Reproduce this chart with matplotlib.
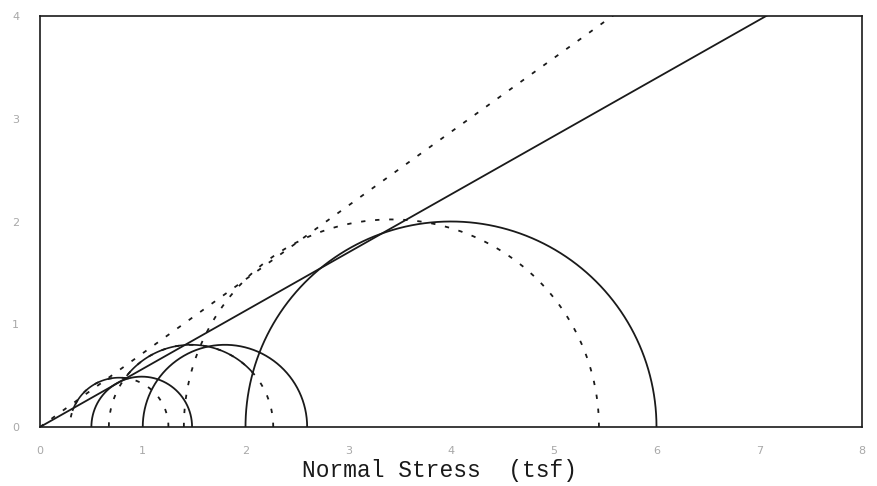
import numpy as np
import matplotlib
matplotlib.use("Agg")
import matplotlib.pyplot as plt

# Mohr circles (centre, radius) in tsf
total_centers = [0.99, 1.80, 4.00]
total_radii = [0.49, 0.80, 2.00]
effective_centers = [0.77, 1.47, 3.42]
effective_radii = [0.48, 0.80, 2.02]
# portions of the effective circles traced as a continuous line (degrees)
effective_solid_arcs = [(80, 160), (41, 141), None]

# failure envelopes through the origin: tan(phi)
total_envelope_slope = 0.566
effective_envelope_slope = 0.718

x_ticks = [0, 1, 2, 3, 4, 5, 6, 7, 8]
y_ticks = [0, 1, 2, 3, 4]

fig = plt.figure(figsize=(8.77, 4.86), dpi=100)
ax = fig.add_axes([40 / 877, 1 - 427 / 486, 822 / 877, 411 / 486])

ink = "#1a1a1a"
dash = (0, (2.4, 5.4))
theta = np.linspace(0, np.pi, 400)

for c, r in zip(total_centers, total_radii):
    ax.plot(c + r * np.cos(theta), r * np.sin(theta), color=ink, lw=1.3)

for c, r, arc in zip(effective_centers, effective_radii, effective_solid_arcs):
    ax.plot(c + r * np.cos(theta), r * np.sin(theta), color=ink, lw=1.3,
            linestyle=dash)
    if arc is not None:
        t = np.radians(np.linspace(arc[0], arc[1], 100))
        ax.plot(c + r * np.cos(t), r * np.sin(t), color=ink, lw=1.2)

xs = np.array([0.0, 8.0])
ax.plot(xs, total_envelope_slope * xs, color=ink, lw=1.3)
ax.plot(xs, effective_envelope_slope * xs, color=ink, lw=1.3, linestyle=dash)

ax.set_xlim(0, 8)
ax.set_ylim(0, 4)
ax.set_xticks(x_ticks)
ax.set_yticks(y_ticks)
ax.tick_params(length=0, labelsize=8, labelcolor="#a8a8a8")
ax.tick_params(axis="x", pad=14)
ax.tick_params(axis="y", pad=15)
for s in ax.spines.values():
    s.set_color(ink)
    s.set_linewidth(1.2)

fig.text(439 / 877, 1 - 470 / 486, "Normal Stress  (tsf)", ha="center",
         va="center", family="Liberation Mono", fontsize=16.5, color=ink)

fig.savefig("out.png", dpi=100, facecolor="white")
